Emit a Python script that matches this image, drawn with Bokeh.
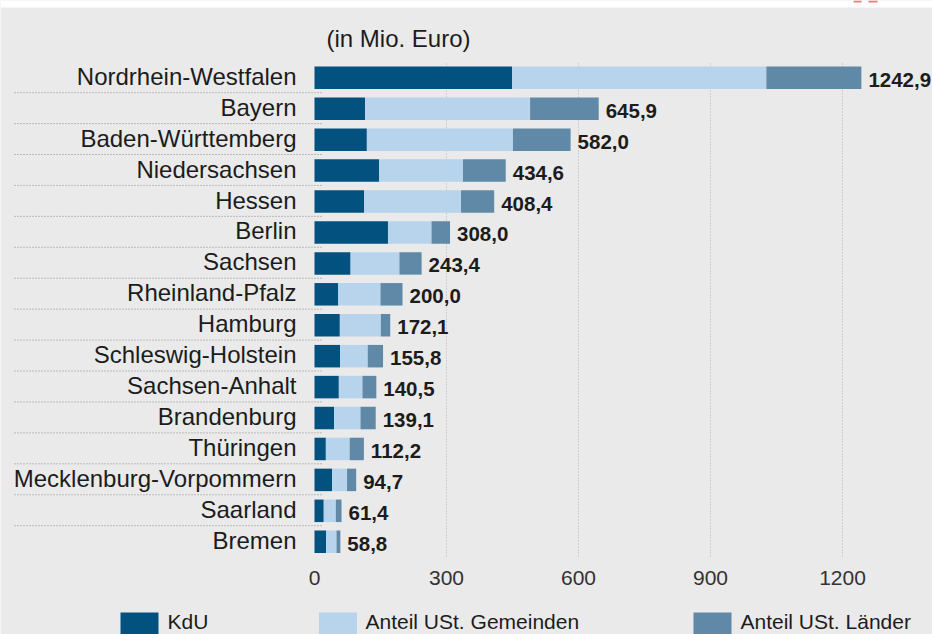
from bokeh.plotting import figure
from bokeh.models import ColumnDataSource, Range1d
from bokeh.core.properties import value
from bokeh.embed import file_html
from bokeh.resources import INLINE

# ---- data ----
states = ["Nordrhein-Westfalen", "Bayern", "Baden-Württemberg", "Niedersachsen",
          "Hessen", "Berlin", "Sachsen", "Rheinland-Pfalz", "Hamburg",
          "Schleswig-Holstein", "Sachsen-Anhalt", "Brandenburg", "Thüringen",
          "Mecklenburg-Vorpommern", "Saarland", "Bremen"]
kdu = [449, 115, 119, 147, 113, 167, 82, 54, 57.6, 58.3, 55.3, 44.7, 25.8, 40, 21, 26.5]
anteil_gemeinden = [578, 375, 332, 190.5, 220, 99, 111, 96, 93.2, 62.7, 53.7, 59.8, 54.2, 34, 27.5, 23.5]
anteil_laender = [215.9, 155.9, 131, 97.1, 75.4, 42, 50.4, 50, 21.3, 34.8, 31.5, 34.6, 32.2, 20.7, 12.9, 8.8]
totals = [1242.9, 645.9, 582.0, 434.6, 408.4, 308.0, 243.4, 200.0, 172.1, 155.8,
          140.5, 139.1, 112.2, 94.7, 61.4, 58.8]
tick_values = [0, 300, 600, 900, 1200]
tick_labels = ["0", "300", "600", "900", "1200"]
series_names = ["KdU", "Anteil USt. Gemeinden", "Anteil USt. Länder"]
unit_title = "(in Mio. Euro)"

# ---- style ----
BG = "#eaeaea"
C_DARK = "#03517e"
C_LIGHT = "#b7d4ec"
C_MID = "#5f89a7"
colors = [C_DARK, C_LIGHT, C_MID]
FONT = "Liberation Sans"
TXT = "#1c1c1c"

W, H = 932, 634
PX_PER_UNIT = 0.44
X0_PX = 314.0          # px of value 0
ROW_PX = 30.93
ROW0_PX = 77.3         # px of first row centre

x_start = -X0_PX / PX_PER_UNIT
x_end = (W - X0_PX) / PX_PER_UNIT
y_top = -ROW0_PX / ROW_PX
y_bot = (H - ROW0_PX) / ROW_PX

def px_to_val(px):
    return (px - X0_PX) / PX_PER_UNIT

def py_to_row(py):
    return (py - ROW0_PX) / ROW_PX

p = figure(width=W, height=H, output_backend="svg", toolbar_location=None,
           x_range=Range1d(x_start, x_end), y_range=Range1d(y_bot, y_top),
           x_axis_location=None, y_axis_location=None, min_border=0)
p.background_fill_color = BG
p.border_fill_color = BG
p.outline_line_color = None
p.grid.visible = False

# white strip on top with small red marks
p.quad(left=[x_start], right=[x_end], top=[y_top], bottom=[py_to_row(7)],
       fill_color="white", line_color=None)
p.quad(left=[px_to_val(853), px_to_val(868)], right=[px_to_val(861), px_to_val(877)],
       top=[y_top, y_top], bottom=[py_to_row(2), py_to_row(2)],
       fill_color="#ef7b7b", line_color=None)

rows = list(range(len(states)))
n = len(states)

# vertical dotted grid lines
grid_x = tick_values[1:]
p.segment(x0=grid_x, x1=grid_x, y0=[py_to_row(63)] * len(grid_x), y1=[py_to_row(557)] * len(grid_x),
          line_color="#b4b4b4", line_width=1, line_dash="1 2")

# dotted row separators
sep_rows = [r + 0.48 for r in rows[:-1]]
p.segment(x0=[px_to_val(14)] * len(sep_rows), x1=[px_to_val(322)] * len(sep_rows),
          y0=sep_rows, y1=sep_rows, line_color="#8c8c8c", line_width=1, line_dash="1 2")

# stacked bars
right1 = kdu
right2 = [a + b for a, b in zip(kdu, anteil_gemeinden)]
right3 = [a + b for a, b in zip(right2, anteil_laender)]
src = ColumnDataSource(dict(y=rows, l1=[0] * n, r1=right1, l2=kdu, r2=right2,
                            l3=right2, r3=right3, tot=totals,
                            lab=[f"{t:.1f}".replace(".", ",") for t in totals],
                            st=states))
BAR_H = 22.5 / ROW_PX
p.hbar(y="y", left="l1", right="r1", height=BAR_H, source=src, fill_color=C_DARK, line_color=None)
p.hbar(y="y", left="l2", right="r2", height=BAR_H, source=src, fill_color=C_LIGHT, line_color=None)
p.hbar(y="y", left="l3", right="r3", height=BAR_H, source=src, fill_color=C_MID, line_color=None)

# category labels
p.text(x=px_to_val(296), y="y", text="st", source=src, text_align="right",
       text_baseline="alphabetic", y_offset=-1.5, text_font=value(FONT),
       text_font_size="24px", text_color=TXT)

# value labels
p.text(x="tot", y="y", text="lab", source=src, text_align="left",
       text_baseline="alphabetic", x_offset=7, y_offset=2, text_font=value(FONT),
       text_font_style="bold", text_font_size="20.5px", text_color=TXT)

# tick labels
p.text(x=tick_values, y=[py_to_row(577)] * len(tick_values), text=tick_labels,
       text_align="center", text_baseline="alphabetic", text_font=value(FONT),
       text_font_size="21px", text_color="#333333")

# unit title
p.text(x=[px_to_val(326)], y=[py_to_row(38)], text=[unit_title], text_align="left",
       text_baseline="alphabetic", text_font=value(FONT), text_font_size="24px",
       text_color=TXT)

# legend
sq_px = [139, 337.5, 712]
txt_px = [167, 365, 740]
p.rect(x=[px_to_val(v) for v in sq_px], y=[py_to_row(623)] * 3, width=38, height=22,
       width_units="screen", height_units="screen", fill_color=colors, line_color=None)
p.text(x=[px_to_val(v) for v in txt_px], y=[py_to_row(621)] * 3, text=series_names,
       text_align="left", text_baseline="alphabetic", text_font=value(FONT),
       text_font_size="21px", text_color=TXT)

open("out.html", "w").write(file_html(p, INLINE))
